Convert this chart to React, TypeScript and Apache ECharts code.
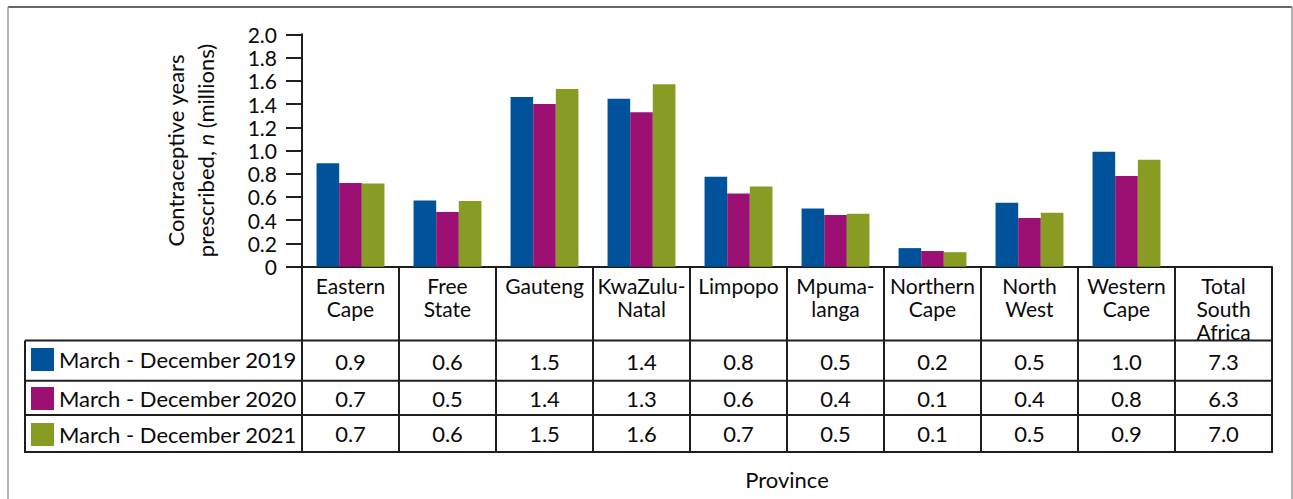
import React, { useEffect, useRef } from "react";
import * as echarts from "echarts";

const categories = [
  "Eastern\nCape", "Free\nState", "Gauteng", "KwaZulu-\nNatal", "Limpopo",
  "Mpuma-\nlanga", "Northern\nCape", "North\nWest", "Western\nCape", "Total\nSouth\nAfrica",
];
const seriesNames = ["March - December 2019", "March - December 2020", "March - December 2021"];
const colors = ["#00529B", "#9C1074", "#889B22"];

// bar heights (millions); Total has no bar
const bars2019 = [0.89, 0.57, 1.46, 1.445, 0.775, 0.5, 0.16, 0.55, 0.99, null];
const bars2020 = [0.72, 0.47, 1.4, 1.33, 0.63, 0.445, 0.135, 0.42, 0.78, null];
const bars2021 = [0.715, 0.565, 1.53, 1.57, 0.69, 0.455, 0.125, 0.465, 0.92, null];

// table values
const table2019 = [0.9, 0.6, 1.5, 1.4, 0.8, 0.5, 0.2, 0.5, 1.0, 7.3];
const table2020 = [0.7, 0.5, 1.4, 1.3, 0.6, 0.4, 0.1, 0.4, 0.8, 6.3];
const table2021 = [0.7, 0.6, 1.5, 1.6, 0.7, 0.5, 0.1, 0.5, 0.9, 7.0];

const FONT = "Lato";
const FS = 22;
const FS_TIGHT = 21;

export default function App() {
  const ref = useRef<HTMLDivElement>(null);
  useEffect(() => {
    if (!ref.current) return;
    const chart = echarts.init(ref.current, null, { renderer: "svg" });
    const W = 1293, H = 499;
    const gL = 302, gR = 1272, gT = 34.3, axisY = 266.7;
    const n = categories.length;
    const cw = (gR - gL) / n;
    const rowBottoms = [340.5, 380.7, 415, 452];
    const legendTops = [348, 387, 423];
    const rowCenters = [361, 398, 433.5];
    const tables = [table2019, table2020, table2021];
    const barsData = [bars2019, bars2020, bars2021];
    const lineC = "#1e1e1e";
    const textC = "#0a0a0a";

    const graphics: any[] = [];
    // outer frame
    graphics.push({ type: "line", shape: { x1: 8, y1: 7, x2: 1292, y2: 7 }, style: { stroke: "#666", lineWidth: 2 } });
    graphics.push({ type: "line", shape: { x1: 8, y1: 7, x2: 8, y2: H }, style: { stroke: "#999", lineWidth: 1.5 } });
    graphics.push({ type: "line", shape: { x1: 1292, y1: 7, x2: 1292, y2: H }, style: { stroke: "#999", lineWidth: 1.5 } });
    // table horizontal lines
    rowBottoms.forEach((y) => {
      graphics.push({ type: "line", shape: { x1: 25, y1: y, x2: gR + 1, y2: y }, style: { stroke: lineC, lineWidth: 2 } });
    });
    // vertical lines
    for (let i = 0; i <= n; i++) {
      const x = gL + i * cw;
      graphics.push({ type: "line", shape: { x1: x, y1: axisY, x2: x, y2: rowBottoms[3] + 1 }, style: { stroke: lineC, lineWidth: 2 } });
    }
    graphics.push({ type: "line", shape: { x1: 25, y1: rowBottoms[0], x2: 25, y2: rowBottoms[3] + 1 }, style: { stroke: lineC, lineWidth: 2 } });

    const valueAxes = tables.map((t, r) => ({
      type: "category",
      data: categories,
      position: "bottom",
      gridIndex: 0,
      axisLine: { show: false },
      axisTick: { show: false },
      axisLabel: {
        interval: 0,
        margin: rowCenters[r] - axisY,
        verticalAlign: "middle",
        fontSize: FS,
        fontFamily: FONT,
        color: textC,
        formatter: (_v: string, idx: number) => t[idx].toFixed(1),
      },
    }));

    chart.setOption({
      animation: false,
      backgroundColor: "#fff",
      grid: { left: gL, right: W - gR, top: gT, bottom: H - axisY, containLabel: false },
      legend: seriesNames.map((name, i) => ({
        data: [name],
        left: 31,
        top: legendTops[i],
        padding: 0,
        itemWidth: 23,
        itemHeight: 23,
        icon: "rect",
        selectedMode: false,
        textStyle: { fontSize: FS, fontFamily: FONT, color: textC },
      })),
      xAxis: [
        {
          type: "category",
          data: categories,
          position: "bottom",
          axisLine: { show: true, lineStyle: { color: lineC, width: 2 } },
          axisTick: { show: false },
          axisLabel: {
            interval: 0,
            margin: 7,
            fontSize: FS_TIGHT,
            lineHeight: 23,
            fontFamily: FONT,
            color: textC,
          },
          name: "Province",
          nameLocation: "middle",
          nameGap: 202,
          nameTextStyle: { fontSize: FS, fontFamily: FONT, color: textC },
        },
        ...valueAxes,
      ],
      yAxis: {
        type: "value",
        min: 0,
        max: 2,
        interval: 0.2,
        axisLine: { show: true, lineStyle: { color: lineC, width: 2 } },
        axisTick: { show: true, length: 16, lineStyle: { color: lineC, width: 2 } },
        splitLine: { show: false },
        axisLabel: {
          margin: 25,
          fontSize: FS_TIGHT,
          fontFamily: FONT,
          color: textC,
          formatter: (v: number) => (v === 0 ? "0" : v.toFixed(1)),
        },
        name: "Contraceptive years\nprescribed, {i|n} (millions)",
        nameLocation: "middle",
        nameGap: 82,
        nameTextStyle: {
          fontSize: FS,
          fontFamily: FONT,
          color: textC,
          lineHeight: 30,
          rich: { i: { fontStyle: "italic", fontSize: FS, fontFamily: FONT, color: textC, lineHeight: 30 } },
        },
      },
      series: seriesNames.map((name, i) => ({
        name,
        type: "bar",
        xAxisIndex: 0,
        data: barsData[i],
        barGap: "0%",
        barCategoryGap: "30%",
        itemStyle: { color: colors[i] },
      })),
      graphic: graphics,
    });
    return () => chart.dispose();
  }, []);
  return <div ref={ref} style={{ position: "absolute", left: 0, top: 0, width: 1293, height: 499 }} />;
}
